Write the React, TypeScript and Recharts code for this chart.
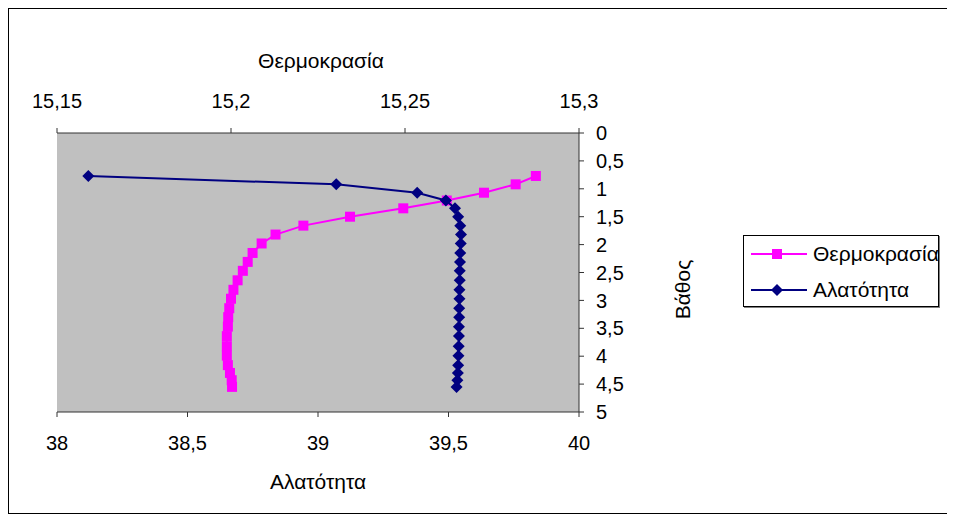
import React from "react";
import { ScatterChart, Scatter, XAxis, YAxis, CartesianGrid } from "recharts";

// CTD cast: depth (m) with temperature (°C) and salinity (psu) readings
const depth = [
  0.77, 0.92, 1.07, 1.21, 1.35, 1.5, 1.66, 1.82, 1.98, 2.15, 2.31, 2.47, 2.64,
  2.81, 2.97, 3.14, 3.3, 3.47, 3.64, 3.82, 3.99, 4.16, 4.3, 4.43, 4.55,
];
const temperature = [
  15.2876, 15.2818, 15.2727, 15.262, 15.2495, 15.2342, 15.2208, 15.2128, 15.2088,
  15.2062, 15.2048, 15.2034, 15.2019, 15.2007, 15.2, 15.1995, 15.1992, 15.1991,
  15.1988, 15.1988, 15.1988, 15.1991, 15.1997, 15.2002, 15.2003,
];
const salinity = [
  38.12, 39.07, 39.38, 39.49, 39.525, 39.537, 39.545, 39.548, 39.547, 39.545,
  39.544, 39.543, 39.543, 39.542, 39.542, 39.541, 39.541, 39.54, 39.54, 39.539,
  39.538, 39.537, 39.536, 39.534, 39.531,
];

const tempTicks = [15.15, 15.2, 15.25, 15.3];
const salTicks = [38, 38.5, 39, 39.5, 40];
const depthTicks = [0, 0.5, 1, 1.5, 2, 2.5, 3, 3.5, 4, 4.5, 5];

const TEMP_COLOR = "#FF00FF";
const SAL_COLOR = "#000080";
const AXIS_COLOR = "#333333";
const FONT = "'Liberation Sans', Arial, sans-serif";
const TICK_SIZE = 20;
const TITLE_SIZE = 21;

const tempData = depth.map((d, i) => ({ depth: d, temp: temperature[i] }));
const salData = depth.map((d, i) => ({ depth: d, sal: salinity[i] }));

const comma = (v: number) => String(v).replace(".", ",");

const Square = (props: any) => {
  const { cx, cy } = props;
  if (cx == null || cy == null) return null;
  return <rect x={cx - 5} y={cy - 5} width={10} height={10} fill={TEMP_COLOR} />;
};

const Diamond = (props: any) => {
  const { cx, cy } = props;
  if (cx == null || cy == null) return null;
  const r = 6;
  return (
    <polygon
      points={`${cx},${cy - r} ${cx + r},${cy} ${cx},${cy + r} ${cx - r},${cy}`}
      fill={SAL_COLOR}
    />
  );
};

const tickStyle = { fill: "#000", fontSize: TICK_SIZE, fontFamily: FONT };

const Title = ({ x, y, rotate, children }: any) => (
  <text
    x={x}
    y={y}
    transform={rotate ? `rotate(-90, ${x}, ${y})` : undefined}
    textAnchor="middle"
    dominantBaseline="central"
    fontSize={TITLE_SIZE}
    fontFamily={FONT}
    fill="#000"
  >
    {children}
  </text>
);

const legendItems = [
  { name: "Θερμοκρασία", color: TEMP_COLOR, marker: "square" },
  { name: "Αλατότητα", color: SAL_COLOR, marker: "diamond" },
];

const LegendBox = () => (
  <div
    style={{
      position: "absolute",
      left: 734,
      top: 226,
      width: 196,
      height: 72,
      boxSizing: "border-box",
      border: "1px solid #000",
      boxShadow: "1px 1px 0 #808080",
      background: "#fff",
      fontFamily: FONT,
      fontSize: TITLE_SIZE,
    }}
  >
    {legendItems.map((item) => (
      <div key={item.name} style={{ display: "flex", alignItems: "center", height: 36 }}>
        <svg width={70} height={20} style={{ marginLeft: 7, flex: "none" }}>
          <line x1={0} y1={10} x2={56} y2={10} stroke={item.color} strokeWidth={2} />
          {item.marker === "square" ? (
            <rect x={21} y={5} width={10} height={10} fill={item.color} />
          ) : (
            <polygon points="26,4 32,10 26,16 20,10" fill={item.color} />
          )}
        </svg>
        <span style={{ whiteSpace: "nowrap", marginLeft: -8 }}>{item.name}</span>
      </div>
    ))}
  </div>
);

export default function App() {
  return (
    <div
      style={{
        width: 939,
        height: 504,
        border: "1px solid #000",
        position: "relative",
        background: "#fff",
      }}
    >
      <ScatterChart
        width={939}
        height={504}
        margin={{ top: 84, right: 329, bottom: 61, left: 48 }}
      >
        <CartesianGrid fill="#C0C0C0" horizontal={false} vertical={false} />
        <XAxis
          xAxisId="temp"
          dataKey="temp"
          type="number"
          orientation="top"
          domain={[15.15, 15.3]}
          ticks={tempTicks}
          tickFormatter={comma}
          interval={0}
          allowDataOverflow
          height={40}
          tickSize={5}
          tickMargin={20}
          stroke={AXIS_COLOR}
          tick={tickStyle}
          label={{
            content: ({ viewBox }: any) => (
              <Title x={viewBox.x + viewBox.width / 2 + 3} y={viewBox.y - 33}>
                Θερμοκρασία
              </Title>
            ),
          }}
        />
        <XAxis
          xAxisId="sal"
          dataKey="sal"
          type="number"
          orientation="bottom"
          domain={[38, 40]}
          ticks={salTicks}
          tickFormatter={comma}
          interval={0}
          allowDataOverflow
          height={40}
          tickSize={5}
          tickMargin={19}
          stroke={AXIS_COLOR}
          tick={tickStyle}
          label={{
            content: ({ viewBox }: any) => (
              <Title x={viewBox.x + viewBox.width / 2} y={viewBox.y + 69}>
                Αλατότητα
              </Title>
            ),
          }}
        />
        <YAxis
          yAxisId="depth"
          dataKey="depth"
          type="number"
          orientation="right"
          reversed
          domain={[0, 5]}
          ticks={depthTicks}
          tickFormatter={comma}
          interval={0}
          allowDataOverflow
          width={40}
          tickSize={5}
          tickMargin={12}
          stroke={AXIS_COLOR}
          tick={tickStyle}
          label={{
            content: ({ viewBox }: any) => (
              <Title
                x={viewBox.x + viewBox.width + 63}
                y={viewBox.y + viewBox.height / 2 + 17}
                rotate
              >
                Βάθος
              </Title>
            ),
          }}
        />
        <Scatter
          name="Θερμοκρασία"
          data={tempData}
          xAxisId="temp"
          yAxisId="depth"
          line={{ stroke: TEMP_COLOR, strokeWidth: 2 }}
          lineType="joint"
          shape={<Square />}
          isAnimationActive={false}
        />
        <Scatter
          name="Αλατότητα"
          data={salData}
          xAxisId="sal"
          yAxisId="depth"
          line={{ stroke: SAL_COLOR, strokeWidth: 2 }}
          lineType="joint"
          shape={<Diamond />}
          isAnimationActive={false}
        />
      </ScatterChart>
      <LegendBox />
    </div>
  );
}
